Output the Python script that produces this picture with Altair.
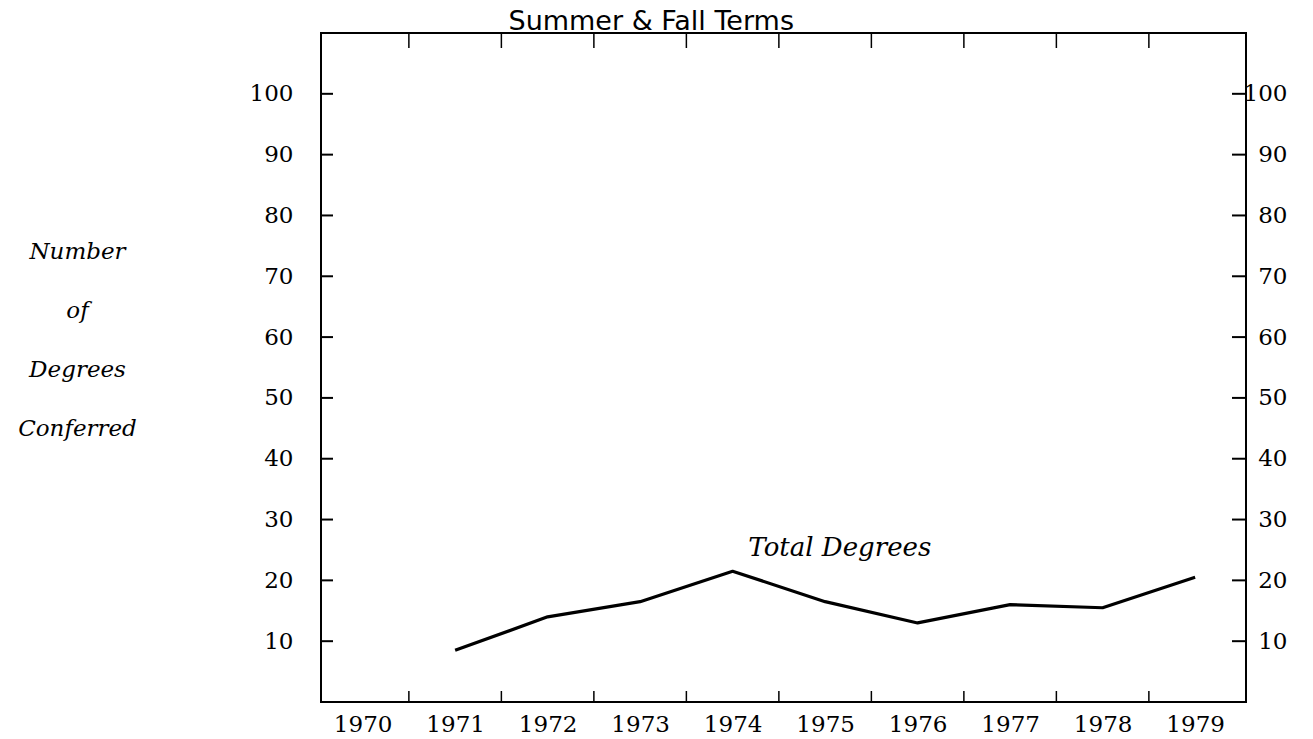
import altair as alt
import pandas as pd

years = [1971, 1972, 1973, 1974, 1975, 1976, 1977, 1978, 1979]
total_degrees = [8.5, 14, 16.5, 21.5, 16.5, 13, 16, 15.5, 20.5]

year_labels = [1970, 1971, 1972, 1973, 1974, 1975, 1976, 1977, 1978, 1979]
x_tick_marks = [1970.5, 1971.5, 1972.5, 1973.5, 1974.5, 1975.5, 1976.5, 1977.5, 1978.5]
y_tick_values = [10, 20, 30, 40, 50, 60, 70, 80, 90, 100]

series_label = ["Total Degrees"]
series_label_x = [1974.17]
series_label_y = [24]

title_text = ["Summer & Fall Terms"]
title_x = [1973.12]
title_y = [110.45]

W, H = 925, 669
SERIF = "DejaVu Serif"
FS = 23

xscale = alt.Scale(domain=[1969.55, 1979.55], nice=False)
yscale = alt.Scale(domain=[0, 110], nice=False, zero=False)

x_axis = alt.Axis(values=year_labels, format="d", ticks=False, domain=False, grid=False,
                  labelPadding=11, labelFont=SERIF, labelFontSize=FS, labelColor="black",
                  title=None, labelFlush=False)

df = pd.DataFrame({"year": years, "total": total_degrees})
xt = pd.DataFrame({"t": x_tick_marks})
yt = pd.DataFrame({"v": y_tick_values})
lab = pd.DataFrame({"text": series_label, "x": series_label_x, "y": series_label_y})
ttl = pd.DataFrame({"text": title_text, "x": title_x, "y": title_y})

line = alt.Chart(df).mark_line(color="black", strokeWidth=3.2, strokeJoin="round").encode(
    x=alt.X("year:Q", scale=xscale, axis=x_axis),
    y=alt.Y("total:Q", scale=yscale,
            axis=alt.Axis(orient="left", values=y_tick_values, ticks=False, domain=False, grid=False,
                          labelPadding=28, labelFont=SERIF, labelFontSize=FS, labelColor="black",
                          title=["Number", "of", "Degrees", "Conferred"],
                          titleAngle=0, titleX=-244, titleY=218, titleAlign="center",
                          titleBaseline="middle", titleLineHeight=59, titleFont=SERIF,
                          titleFontStyle="italic", titleFontWeight="normal", titleFontSize=FS,
                          titleColor="black", labelFlush=False)),
)

left_ticks = alt.Chart(yt).mark_rule(color="black", strokeWidth=2).encode(
    y=alt.Y("v:Q", scale=yscale, axis=None), x=alt.value(0), x2=alt.value(12))

bottom_ticks = alt.Chart(xt).mark_rule(color="black", strokeWidth=1.5).encode(
    x=alt.X("t:Q", scale=xscale, axis=x_axis), y=alt.value(H - 11), y2=alt.value(H))
top_ticks = alt.Chart(xt).mark_rule(color="black", strokeWidth=1.5).encode(
    x=alt.X("t:Q", scale=xscale, axis=x_axis), y=alt.value(0), y2=alt.value(15))

label = alt.Chart(lab).mark_text(font=SERIF, fontStyle="italic", fontSize=26, align="left",
                                 baseline="alphabetic", color="black").encode(
    x=alt.X("x:Q", scale=xscale, axis=x_axis), y=alt.Y("y:Q", scale=yscale, axis=None), text="text:N")

title = alt.Chart(ttl).mark_text(font="DejaVu Sans", fontSize=27, align="center",
                                 baseline="alphabetic", color="black").encode(
    x=alt.X("x:Q", scale=xscale, axis=x_axis), y=alt.Y("y:Q", scale=yscale, axis=None), text="text:N")

right_ticks = alt.Chart(yt).mark_rule(color="black", strokeWidth=2).encode(
    y=alt.Y("v:Q", scale=yscale,
            axis=alt.Axis(orient="right", values=y_tick_values, ticks=False, domain=False, grid=False,
                          labelPadding=41, labelAlign="right", labelFont=SERIF, labelFontSize=FS,
                          labelColor="black", title=None, labelFlush=False)),
    x=alt.value(W - 14), x2=alt.value(W))

chart = alt.layer(line, left_ticks, bottom_ticks, top_ticks, label, title, right_ticks).resolve_scale(
    y="independent").properties(
    width=W, height=H,
    padding={"left": 9, "top": 0, "right": 5, "bottom": 0},
    background="white",
).configure_view(stroke="black", strokeWidth=2)

chart.save("out.html", embed_options={"renderer": "svg", "actions": False})
